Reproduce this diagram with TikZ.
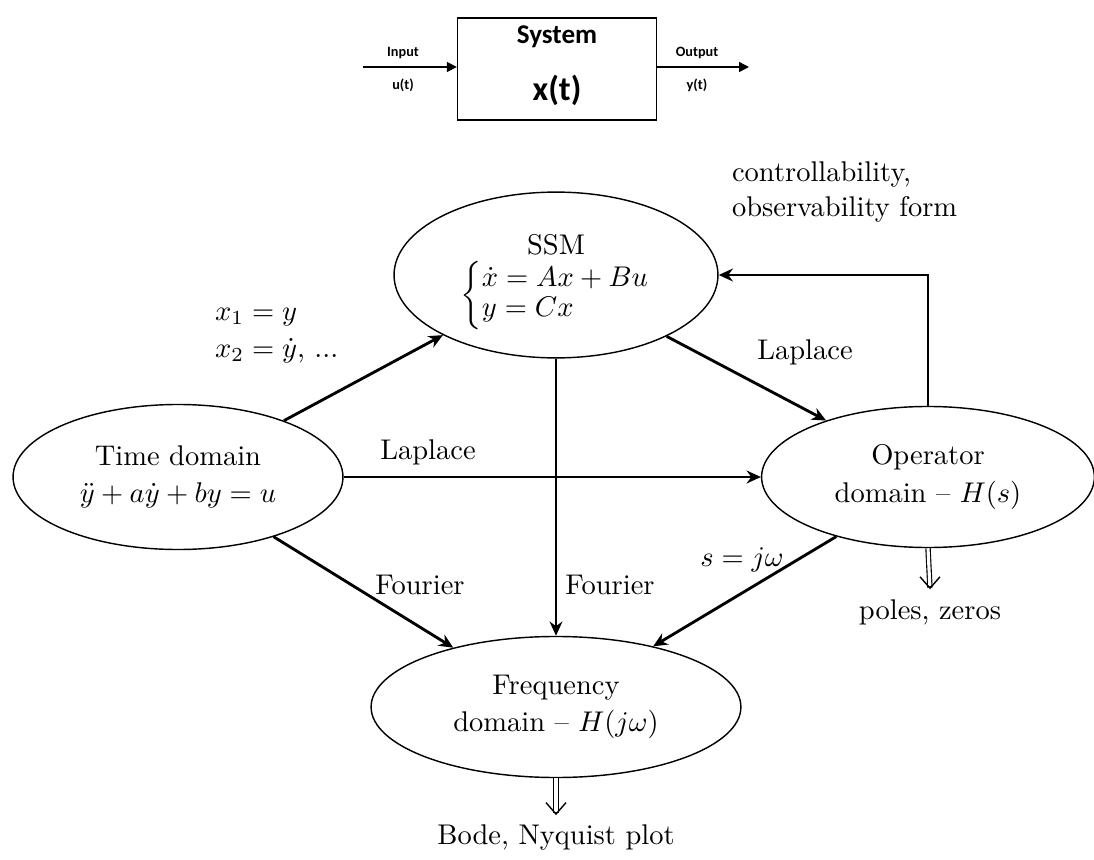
\documentclass[tikz,border=0pt]{standalone}
\usepackage{amsmath, amssymb}
\usepackage{fontspec}
\newfontfamily\blockfont{Carlito}
\usetikzlibrary{arrows.meta, shapes}

\begin{document}
\begin{tikzpicture}[x=0.351pt, y=-0.351pt]
\useasboundingbox (0,0) rectangle (1094,860);

% system block on top
\begin{scope}[every node/.style={font=\blockfont\bfseries}]
  \node[draw, line width=0.5pt, minimum width=69.8pt, minimum height=35.8pt] (sys) at (557,69) {};
  \node[font=\blockfont\bfseries\fontsize{9.5}{11}\selectfont] (sysname) at (557,37) {System};
  \node[font=\blockfont\bfseries\fontsize{12}{14}\selectfont] (state) at (557,90) {x(t)};
  \node[font=\blockfont\bfseries\fontsize{5}{6}\selectfont] (inlab) at (403,53) {Input};
  \node[font=\blockfont\bfseries\fontsize{5}{6}\selectfont] (ulab) at (403,85) {u(t)};
  \node[font=\blockfont\bfseries\fontsize{5}{6}\selectfont] (outlab) at (697,53) {Output};
  \node[font=\blockfont\bfseries\fontsize{5}{6}\selectfont] (ylab) at (697,85) {y(t)};
  \coordinate (in) at (363,67);
  \coordinate (out) at (749,67);
\end{scope}
\begin{scope}[>={Triangle[length=3.5pt, width=3.5pt]}, line width=0.5pt]
  \draw[->] (in) -- (in -| sys.west);
  \draw[->] (out -| sys.east) -- (out);
\end{scope}

% domains
\begin{scope}[every node/.style={ellipse, draw, line width=0.5pt, inner sep=0pt, align=center}]
  \node[minimum width=113.7pt, minimum height=58.2pt] (ssm) at (556,275)
    {\rule{0pt}{12pt}SSM\\[1pt]$\renewcommand{\arraystretch}{0.88}\left\{\begin{array}{@{}l@{}}\dot x = Ax + Bu\\ y = Cx\end{array}\right.$};
  \node[minimum width=115.8pt, minimum height=50.9pt] (time) at (178,477)
    {Time domain\\[1pt]$\ddot y + a\dot y + by = u$};
  \node[minimum width=116.8pt, minimum height=49.5pt] (op) at (928,477)
    {Operator\\[1pt]domain -- $H(s)$};
  \node[minimum width=129.8pt, minimum height=49.5pt] (freq) at (556,707)
    {Frequency\\[1pt]domain -- $H(j\omega)$};
\end{scope}

% results
\node (poles) at (930,612) {poles, zeros};
\node (bode) at (556,838) {Bode, Nyquist plot};

% labels
\node[align=left, anchor=north west] (subst) at (205,298) {$x_1 = y$\\[1pt]$x_2 = \dot y$, ...};
\node[align=left, anchor=south west] (ctrl) at (722,232) {controllability,\\observability form};
\node (lapA) at (428,452) {Laplace};
\node (lapB) at (805,352) {Laplace};
\node (fouA) at (420,585) {Fourier};
\node (fouB) at (610,585) {Fourier};
\node (sjw) at (742,560) {$s = j\omega$};

\begin{scope}[>={Stealth[length=5pt, width=4.5pt]}, line width=1pt]
  \draw[->] (time.28) -- (ssm.208);
  \draw[->] (time.east) -- (op.west);
  \draw[->] (time.-32) -- (freq.150);
  \draw[->] (ssm.-29) -- (op.151);
  \draw[->] (ssm.south) -- (freq.north);
  \draw[->] (op.-147) -- (freq.32);
  \draw[->] (op.north) |- (ssm.east);
\end{scope}
\begin{scope}[line width=0.4pt, double distance=1.1pt, >={Straight Barb[length=4pt, width=7pt]}]
  \draw[double, shorten >=0.6pt] (op.south) -- (poles.north);
  \draw[->, line width=0.5pt] (poles.north) ++(0,-3) -- (poles.north);
  \draw[double, shorten >=0.6pt] (freq.south) -- (bode.north);
  \draw[->, line width=0.5pt] (bode.north) ++(0,-3) -- (bode.north);
\end{scope}
\end{tikzpicture}
\end{document}
